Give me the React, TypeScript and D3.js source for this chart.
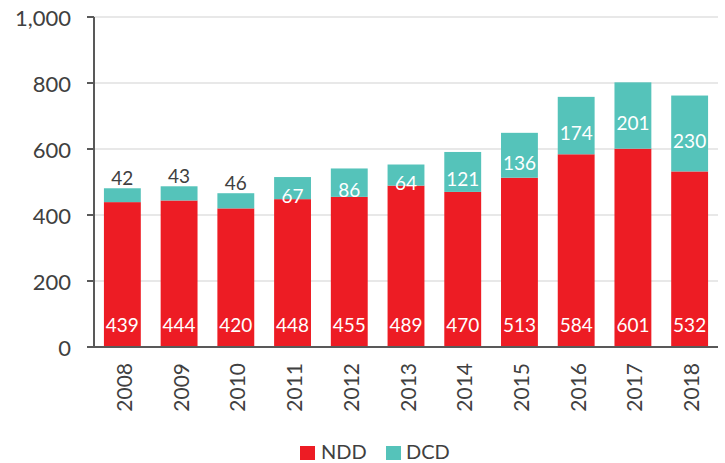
import React from "react";
import * as d3 from "d3";

const years = ["2008", "2009", "2010", "2011", "2012", "2013", "2014", "2015", "2016", "2017", "2018"];
const nddValues = [439, 444, 420, 448, 455, 489, 470, 513, 584, 601, 532];
const dcdValues = [42, 43, 46, 67, 86, 64, 121, 136, 174, 201, 230];
const yTicks = [0, 200, 400, 600, 800, 1000];
const seriesNames = ["NDD", "DCD"];

const W = 725;
const H = 463;
const RED = "#ED1C24";
const TEAL = "#55C3BA";
const TEXT = "#404040";
const FONT = "Lato, 'Open Sans', sans-serif";

export default function App() {
  const x = d3.scaleBand<string>().domain(years).range([94, 718]).paddingInner(0.35).paddingOuter(0.175);
  const y = d3.scaleLinear().domain([0, 1000]).range([347, 17]);
  const fmt = d3.format(",");

  const rows = years.map((yr, i) => ({ yr, ndd: nddValues[i], dcd: dcdValues[i] }));
  const stack = d3.stack<any>().keys(["ndd", "dcd"])(rows);
  const colors = [RED, TEAL];

  return (
    <svg width={W} height={H} style={{ position: "absolute", left: 0, top: 0, background: "#fff" }} fontFamily={FONT}>
      {/* gridlines */}
      {yTicks.filter((t) => t > 0).map((t) => (
        <line key={t} x1={94} x2={718} y1={y(t)} y2={y(t)} stroke="#E8E8E8" strokeWidth={2} />
      ))}
      {/* bars */}
      {stack.map((s, si) =>
        s.map((d, i) => (
          <rect
            key={si + "-" + i}
            x={x(years[i])}
            width={x.bandwidth()}
            y={y(d[1])}
            height={y(d[0]) - y(d[1])}
            fill={colors[si]}
          />
        ))
      )}
      {/* axes */}
      <line x1={94} x2={94} y1={y(1000)} y2={y(0)} stroke="#595959" strokeWidth={2} />
      <line x1={87} x2={718} y1={y(0)} y2={y(0)} stroke="#595959" strokeWidth={2} />
      {yTicks.map((t) => (
        <g key={t}>
          <line x1={87} x2={94} y1={y(t)} y2={y(t)} stroke="#595959" strokeWidth={2} />
          <text x={71} y={y(t)} textAnchor="end" dominantBaseline="central" fontSize={22} fill={TEXT}>
            {fmt(t)}
          </text>
        </g>
      ))}
      {/* year labels */}
      {years.map((yr) => {
        const cx = (x(yr) as number) + x.bandwidth() / 2 + 1;
        return (
          <text
            key={yr}
            transform={`translate(${cx},363) rotate(-90)`}
            textAnchor="end"
            dominantBaseline="central"
            fontSize={21}
            fill={TEXT}
          >
            {yr}
          </text>
        );
      })}
      {/* NDD labels */}
      {nddValues.map((v, i) => (
        <text
          key={"n" + i}
          x={(x(years[i]) as number) + x.bandwidth() / 2}
          y={y(0) - 23}
          textAnchor="middle"
          dominantBaseline="central"
          fontSize={19}
          fill="#fff"
        >
          {v}
        </text>
      ))}
      {/* DCD labels */}
      {dcdValues.map((v, i) => {
        const top = y(nddValues[i] + v);
        const bottom = y(nddValues[i]);
        const cx = (x(years[i]) as number) + x.bandwidth() / 2;
        const inside = bottom - top >= 20;
        return inside ? (
          <text key={"d" + i} x={cx} y={(top + bottom) / 2 + 7} textAnchor="middle" dominantBaseline="central" fontSize={19} fill="#fff">
            {v}
          </text>
        ) : (
          <text key={"d" + i} x={cx} y={top - 3} textAnchor="middle" fontSize={19} fill={TEXT}>
            {v}
          </text>
        );
      })}
      {/* legend */}
      <g>
        <rect x={300} y={446} width={15} height={14} fill={RED} />
        <text x={321} y={451} dominantBaseline="central" fontSize={20} fill={TEXT}>
          {seriesNames[0]}
        </text>
        <rect x={386} y={446} width={15} height={14} fill={TEAL} />
        <text x={406} y={451} dominantBaseline="central" fontSize={20} fill={TEXT}>
          {seriesNames[1]}
        </text>
      </g>
    </svg>
  );
}
